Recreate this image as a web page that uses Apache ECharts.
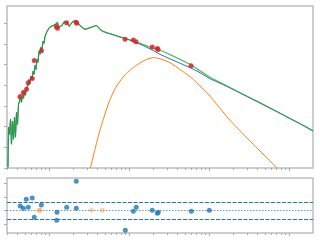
<!DOCTYPE html>
<html>
<head>
<meta charset="utf-8">
<script src="https://cdn.jsdelivr.net/npm/echarts@6.0.0/dist/echarts.min.js"></script>
<style>
  html, body { margin: 0; padding: 0; background: #fff; }
  #main { width: 320px; height: 240px; }
</style>
</head>
<body>
<div id="main"></div>
<script>
// log10 wavelength / log10 flux
var modelWave = [-0.513,-0.506,-0.494,-0.481,-0.469,-0.456,-0.444,-0.431,-0.419,-0.406,
  -0.394,-0.381,-0.369,-0.356,-0.344,-0.331,-0.319,-0.306,-0.294,-0.281,
  -0.263,-0.25,-0.238,-0.225,-0.213,-0.2,-0.188,-0.175,-0.163,-0.15,
  -0.138,-0.125,-0.113,-0.1,-0.088,-0.075,-0.063,-0.05,-0.025,0,
  0.025,0.05,0.075,0.094,0.106,0.119,0.138,0.163,0.188,0.213,
  0.225,0.25,0.275,0.3,0.325,0.35,0.375,0.413,0.45,0.488,
  0.525,0.563,0.594,0.613,0.638,0.675,0.725,0.788,0.863,0.925,
  0.988,1.05,1.113,1.175,1.238,1.3,1.388,1.513,1.638,1.763,
  1.888,2.013,2.225,2.388,2.638,2.888,3.138,3.3];
// star + dust
var totalFlux = [-7.97,-6.03,-6.37,-5.64,-6.85,-5.74,-6.61,-5.55,-6.51,-5.31,
  -5.89,-4.92,-4.77,-4.58,-4.82,-4.43,-4.63,-4.29,-4.48,-4.14,
  -4.00,-3.71,-3.90,-3.56,-3.71,-3.32,-3.47,-3.03,-3.23,-2.74,
  -2.89,-2.35,-2.50,-2.16,-2.26,-1.87,-1.97,-1.63,-1.39,-1.24,
  -1.14,-1.10,-1.07,-1.02,-0.95,-1.19,-1.24,-1.10,-0.93,-0.85,
  -0.95,-1.14,-1.05,-0.90,-0.85,-0.90,-1.05,-1.19,-1.29,-1.24,
  -1.19,-1.14,-1.10,-1.17,-1.29,-1.39,-1.46,-1.53,-1.63,-1.70,
  -1.77,-1.86,-1.93,-2.02,-2.11,-2.21,-2.29,-2.51,-2.74,-2.98,
  -3.30,-3.61,-4.03,-4.36,-4.85,-5.35,-5.86,-6.20];
// star only
var starFlux = [-7.97,-6.03,-6.37,-5.64,-6.85,-5.74,-6.61,-5.55,-6.51,-5.31,
  -5.89,-4.92,-4.77,-4.58,-4.82,-4.43,-4.63,-4.29,-4.48,-4.14,
  -4.00,-3.71,-3.90,-3.56,-3.71,-3.32,-3.47,-3.03,-3.23,-2.74,
  -2.89,-2.35,-2.50,-2.16,-2.26,-1.87,-1.97,-1.63,-1.39,-1.24,
  -1.14,-1.10,-1.07,-1.02,-0.95,-1.19,-1.24,-1.10,-0.93,-0.85,
  -0.95,-1.14,-1.05,-0.90,-0.85,-0.90,-1.05,-1.19,-1.29,-1.24,
  -1.19,-1.14,-1.10,-1.17,-1.29,-1.39,-1.46,-1.53,-1.63,-1.70,
  -1.77,-1.88,-1.97,-2.07,-2.19,-2.31,-2.50,-2.72,-2.93,-3.14,
  -3.39,-3.68,-4.05,-4.37,-4.85,-5.35,-5.86,-6.20];

var dustWave = [0.516,0.554,0.596,0.638,0.679,0.721,0.763,0.825,0.888,0.963,1.054,
  1.138,1.221,1.304,1.388,1.513,1.638,1.804,2.013,2.241,2.471,2.638,2.825,2.85];
var dustFlux = [-8.02,-7.42,-6.77,-6.15,-5.64,-5.14,-4.68,-4.17,-3.79,-3.44,-3.14,
  -2.91,-2.74,-2.66,-2.71,-2.90,-3.23,-3.71,-4.52,-5.60,-6.53,-7.18,-7.90,-8.04];

var obsWave = [-0.363,-0.321,-0.281,-0.259,-0.209,-0.184,-0.094,0.091,0.106,0.219,
  0.338,0.346,0.95,1.054,1.088,1.291,1.354,1.363,1.775];
var obsFlux = [-4.55,-4.35,-4.19,-3.87,-3.67,-2.80,-2.32,-1.15,-1.24,-0.97,
  -0.95,-1.00,-1.77,-1.80,-1.89,-2.15,-2.22,-2.26,-3.05];
var obsErr = [0.12,0.1,0.1,0.1,0.08,0.06,0.06,0.04,0.04,0.03,
  0.03,0.03,0.03,0.03,0.03,0.03,0.03,0.03,0.03];

// residual panel
var resWave = [-0.359,-0.321,-0.284,-0.259,-0.209,-0.184,-0.096,0.096,0.1,0.221,
  0.341,0.341,0.954,1.054,1.091,1.291,1.354,1.366,1.779,2.004];
var resValue = [0.32,0.15,0.81,0.22,0.91,-0.52,0.39,-0.74,-0.15,0.22,
  2.15,0.15,-1.48,-0.07,0.22,0.0,-0.22,-0.15,-0.07,0.0];
var exclWave = [-0.125,-0.109,0.529,0.666];
var exclValue = [0,0,0,0];
var resMean = 0, resUpper = 0.59, resLower = -0.67;

// ticks
var xMajor = [0, 1, 2, 3];
var fluxTicks = [-8,-7,-6,-5,-4,-3,-2,-1];
var resTicks = [-1, 0, 1, 2];
var xMin = -0.525, xMax = 3.3;

var xMinor = [];
for (var d = -1; d <= 3; d++) {
  for (var k = 2; k <= 9; k++) {
    var v = d + Math.log10(k);
    if (v > xMin && v < xMax) xMinor.push(v);
  }
}

function zip(a, b) {
  return a.map(function (x, i) { return [x, b[i]]; });
}

var frame = '#bdbdbd';
var tickColor = '#aaaaaa';

function xAxisFor(grid, ticks, len) {
  return {
    type: 'value', gridIndex: grid, position: 'bottom', min: xMin, max: xMax,
    axisLine: { show: false, onZero: false },
    axisTick: { show: true, customValues: ticks, length: len, lineStyle: { color: tickColor, width: 1 } },
    axisLabel: { show: false },
    splitLine: { show: false }
  };
}

function yAxisFor(grid, lo, hi, ticks) {
  return {
    type: 'value', gridIndex: grid, position: 'left', min: lo, max: hi,
    axisLine: { show: false, onZero: false },
    axisTick: { show: true, customValues: ticks, length: 3, lineStyle: { color: tickColor } },
    axisLabel: { show: false }, splitLine: { show: false }
  };
}

var chart = echarts.init(document.getElementById('main'), null, { renderer: 'canvas' });

var option = {
  animation: false,
  grid: [
    { left: 7, right: 7, top: 6, height: 162, show: true, borderColor: frame, borderWidth: 1.5 },
    { left: 7, right: 7, top: 178, height: 55, show: true, borderColor: frame, borderWidth: 1.5 }
  ],
  xAxis: [
    xAxisFor(0, xMajor, 3),
    xAxisFor(0, xMinor, 2),
    xAxisFor(1, xMajor, 3),
    xAxisFor(1, xMinor, 2)
  ],
  yAxis: [
    yAxisFor(0, -8, -0.16, fluxTicks),
    yAxisFor(1, -1.68, 2.39, resTicks)
  ],
  series: [
    {
      name: 'star', type: 'line', xAxisIndex: 0, yAxisIndex: 0,
      data: zip(modelWave, starFlux), showSymbol: false,
      lineStyle: { color: '#1f77b4', width: 1 }, z: 2
    },
    {
      name: 'total', type: 'line', xAxisIndex: 0, yAxisIndex: 0,
      data: zip(modelWave, totalFlux), showSymbol: false,
      lineStyle: { color: '#2ca02c', width: 1.3, opacity: 0.75 }, z: 3
    },
    {
      name: 'dust', type: 'line', xAxisIndex: 0, yAxisIndex: 0,
      data: zip(dustWave, dustFlux), showSymbol: false, smooth: 0.15,
      lineStyle: { color: '#ff7f0e', width: 1 }, z: 3
    },
    {
      // error bars
      type: 'custom', xAxisIndex: 0, yAxisIndex: 0, z: 4,
      data: obsWave.map(function (x, i) { return [x, obsFlux[i], obsErr[i]]; }),
      renderItem: function (params, api) {
        var lo = api.coord([api.value(0), api.value(1) - api.value(2)]);
        var hi = api.coord([api.value(0), api.value(1) + api.value(2)]);
        return {
          type: 'line',
          shape: { x1: lo[0], y1: lo[1], x2: hi[0], y2: hi[1] },
          style: { stroke: '#d62728', lineWidth: 1, opacity: 0.8 }
        };
      }
    },
    {
      name: 'observed', type: 'scatter', xAxisIndex: 0, yAxisIndex: 0,
      data: zip(obsWave, obsFlux), symbolSize: 5,
      itemStyle: { color: '#d62728', opacity: 0.85 }, z: 5
    },
    {
      name: 'residual', type: 'scatter', xAxisIndex: 2, yAxisIndex: 1,
      data: zip(resWave, resValue), symbolSize: 5,
      itemStyle: { color: '#1f77b4' }, z: 5,
      markLine: {
        silent: true, symbol: 'none', label: { show: false },
        data: [
          { yAxis: resUpper, lineStyle: { color: '#1f77b4', type: [4, 1.5], width: 1 } },
          { yAxis: resLower, lineStyle: { color: '#1f77b4', type: [4, 1.5], width: 1 } },
          { yAxis: resMean, lineStyle: { color: '#5b9bd0', type: [1.5, 1.5], width: 1 } }
        ]
      }
    },
    {
      name: 'excluded', type: 'scatter', xAxisIndex: 2, yAxisIndex: 1,
      data: zip(exclWave, exclValue), symbolSize: 5,
      itemStyle: { color: '#ff7f0e', opacity: 0.35 }, z: 5
    }
  ]
};

chart.setOption(option);
</script>
</body>
</html>
